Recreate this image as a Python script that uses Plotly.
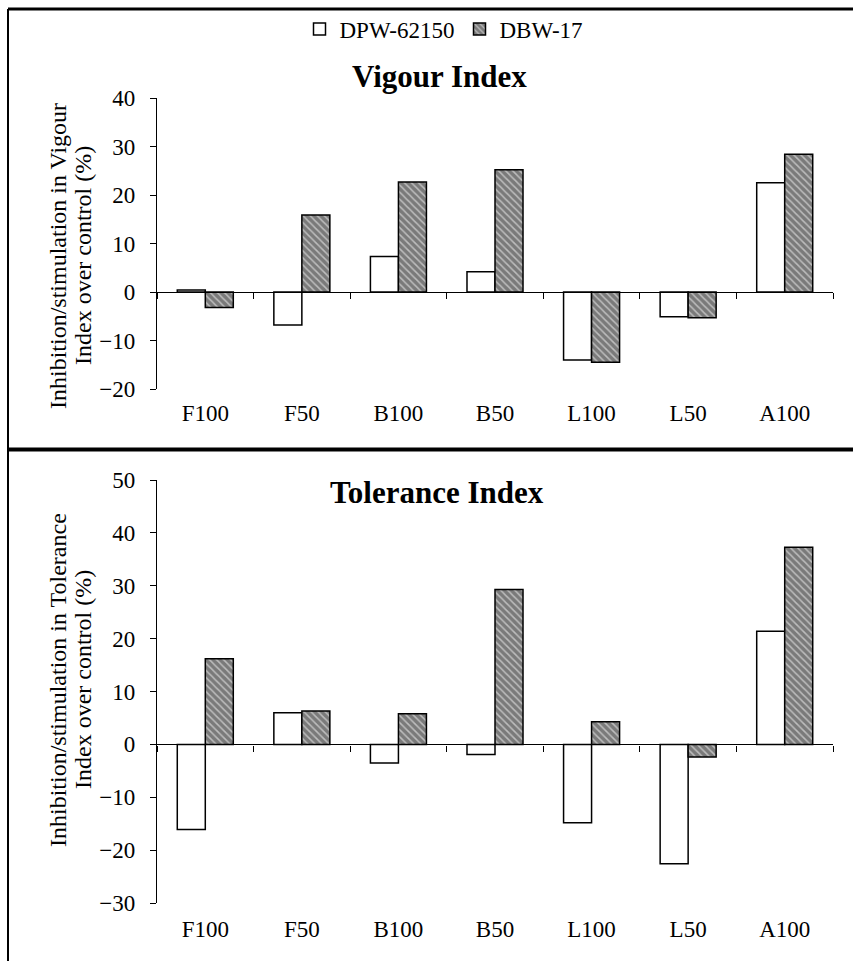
import plotly.graph_objects as go

categories = ["F100", "F50", "B100", "B50", "L100", "L50", "A100"]
series_names = ["DPW-62150", "DBW-17"]

vigour_dpw = [0.4, -6.8, 7.3, 4.2, -14.0, -5.1, 22.5]
vigour_dbw = [-3.2, 15.9, 22.7, 25.2, -14.5, -5.3, 28.4]

tolerance_dpw = [-16.1, 6.0, -3.5, -1.9, -14.8, -22.6, 21.4]
tolerance_dbw = [16.2, 6.3, 5.8, 29.3, 4.3, -2.4, 37.3]

panel_titles = ["Vigour Index", "Tolerance Index"]
ytitle_line1 = ["Inhibition/stimulation in Vigour", "Inhibition/stimulation in Tolerance"]
ytitle_line2 = ["Index over control (%)", "Index over control (%)"]
y_ranges = [[-20, 40], [-30, 50]]
y_dtick = 10

W, H = 853, 961
FONT = "Liberation Serif"


def fx(px):
    return px / W


def fy(py):
    return 1 - py / H


x_dom = [fx(157), fx(833)]
y_doms = [[fy(389), fy(98)], [fy(903), fy(480)]]

fig = go.Figure()

data = [(vigour_dpw, vigour_dbw), (tolerance_dpw, tolerance_dbw)]
for i, (dpw, dbw) in enumerate(data):
    xa = "x" if i == 0 else "x2"
    ya = "y" if i == 0 else "y2"
    fig.add_trace(go.Bar(
        x=categories, y=dpw, name=series_names[0], xaxis=xa, yaxis=ya,
        marker=dict(color="white", line=dict(color="black", width=1.5)),
        showlegend=(i == 0), legendgroup="a",
    ))
    fig.add_trace(go.Bar(
        x=categories, y=dbw, name=series_names[1], xaxis=xa, yaxis=ya,
        marker=dict(color="#7a7a7a", line=dict(color="black", width=1.5),
                    pattern=dict(shape="\\", bgcolor="#7a7a7a", fgcolor="white",
                                 size=5, solidity=0.3)),
        showlegend=(i == 0), legendgroup="b",
    ))


def zero_pos(dom, rng):
    return dom[0] + (0 - rng[0]) / (rng[1] - rng[0]) * (dom[1] - dom[0])


standoffs = [100, 164]
layout_axes = {}
for i in range(2):
    sx = "" if i == 0 else "2"
    layout_axes["xaxis" + sx] = dict(
        type="category", categoryorder="array", categoryarray=categories,
        domain=x_dom, anchor="free", position=zero_pos(y_doms[i], y_ranges[i]),
        range=[-0.5, len(categories) - 0.5],
        showline=True, linecolor="black", linewidth=1.3,
        ticks="outside", tickson="boundaries", ticklen=6, tickcolor="black", tickwidth=1.3,
        showgrid=False, zeroline=False, automargin=False,
        tickfont=dict(family=FONT, size=23, color="black"),
        ticklabelstandoff=standoffs[i],
    )
    layout_axes["yaxis" + sx] = dict(
        domain=y_doms[i], anchor="x" + sx, range=y_ranges[i], dtick=y_dtick,
        showline=True, linecolor="black", linewidth=1.3,
        ticks="outside", ticklen=6, tickcolor="black", tickwidth=1.3,
        showgrid=False, zeroline=False, automargin=False,
        tickfont=dict(family=FONT, size=23, color="black"),
        ticklabelstandoff=10,
    )

annotations = []
title_pos = [(440, 76), (437, 493)]
ytitle_centers = [256, 680]
for i in range(2):
    annotations.append(dict(
        text="<b>" + panel_titles[i] + "</b>", xref="paper", yref="paper",
        x=fx(title_pos[i][0]), y=fy(title_pos[i][1]), xanchor="center", yanchor="middle",
        showarrow=False, font=dict(family=FONT, size=31, color="black"),
    ))
    annotations.append(dict(
        text=ytitle_line1[i], xref="paper", yref="paper",
        x=fx(58), y=fy(ytitle_centers[i]), xanchor="center", yanchor="middle",
        textangle=-90, showarrow=False, font=dict(family=FONT, size=24, color="black"),
    ))
    annotations.append(dict(
        text=ytitle_line2[i], xref="paper", yref="paper",
        x=fx(83), y=fy(ytitle_centers[i]), xanchor="center", yanchor="middle",
        textangle=-90, showarrow=False, font=dict(family=FONT, size=24, color="black"),
    ))

shapes = [
    dict(type="line", xref="paper", yref="paper", x0=fx(8), x1=1, y0=fy(9), y1=fy(9),
         line=dict(color="black", width=3)),
    dict(type="line", xref="paper", yref="paper", x0=fx(8), x1=fx(8), y0=fy(9), y1=0,
         line=dict(color="black", width=2)),
    dict(type="line", xref="paper", yref="paper", x0=fx(8), x1=1, y0=fy(449.5), y1=fy(449.5),
         line=dict(color="black", width=4)),
]

fig.update_layout(
    width=W, height=H,
    margin=dict(l=0, r=0, t=0, b=0, pad=0, autoexpand=False),
    paper_bgcolor="white", plot_bgcolor="white",
    barmode="group", bargap=0.42, bargroupgap=0,
    font=dict(family=FONT, size=23, color="black"),
    legend=dict(orientation="h", x=fx(444), y=fy(29), xanchor="center", yanchor="middle",
                font=dict(family=FONT, size=23, color="black"), bgcolor="rgba(0,0,0,0)",
                itemwidth=30, tracegroupgap=0),
    annotations=annotations, shapes=shapes,
    **layout_axes,
)

fig.write_html("out.html")
